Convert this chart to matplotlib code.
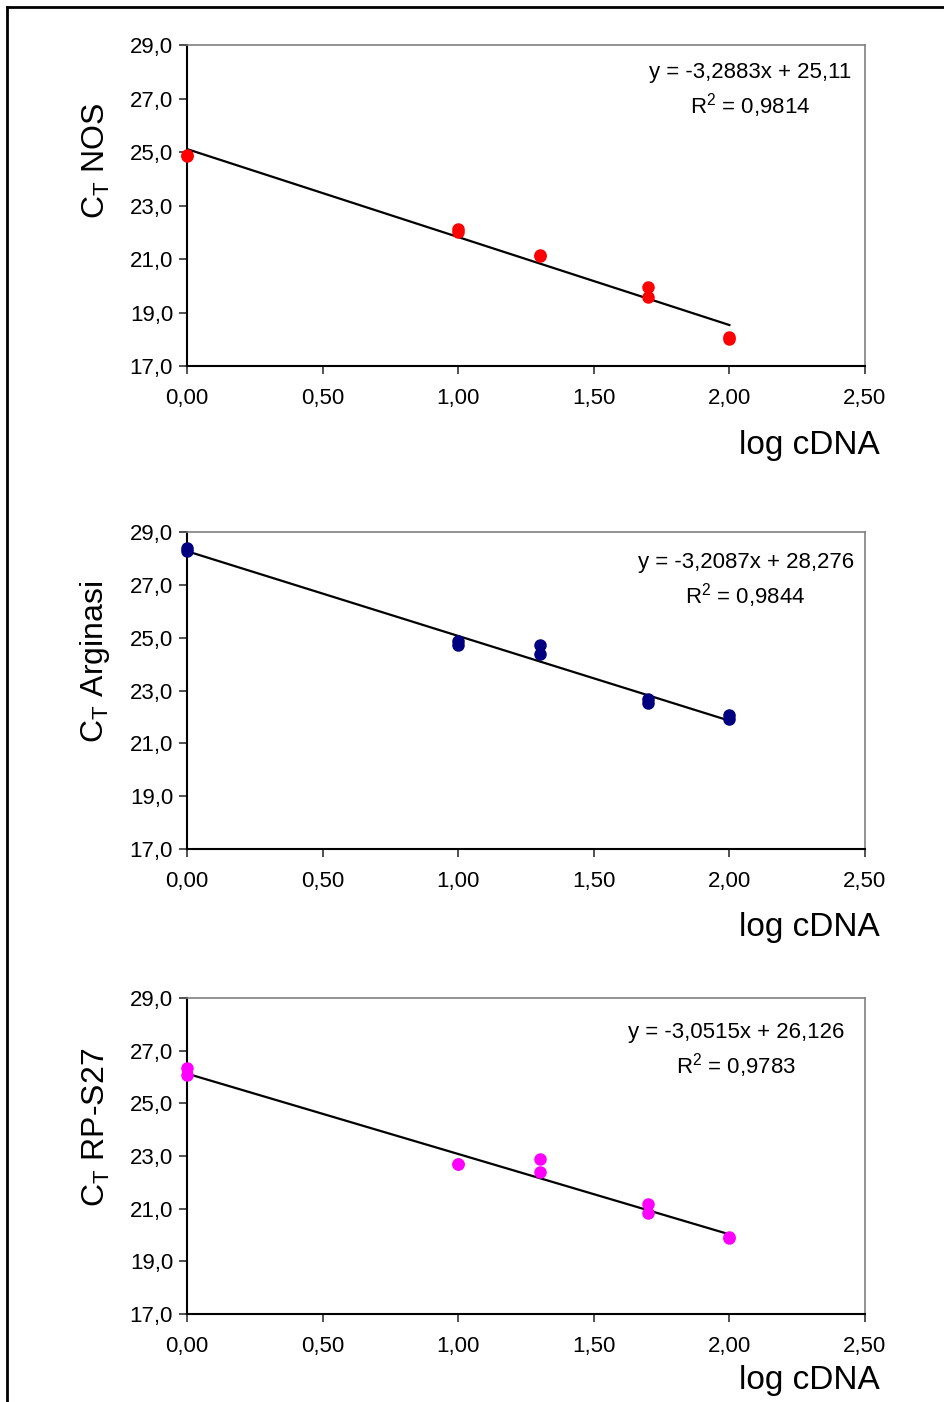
import numpy as np
import matplotlib
matplotlib.use("Agg")
import matplotlib.pyplot as plt
from matplotlib.lines import Line2D

plt.rcParams["font.family"] = ["Liberation Sans", "DejaVu Sans"]

# log of cDNA dilution (1, 10, 20, 50, 100), duplicates per point
log_cdna = [0.0, 0.0, 1.0, 1.0, 1.301, 1.301, 1.699, 1.699, 2.0, 2.0]

ct_nos = [24.85, 24.9, 22.12, 22.0, 21.1, 21.15, 19.95, 19.58, 18.08, 18.03]
ct_arginasi = [28.4, 28.3, 24.87, 24.72, 24.74, 24.38, 22.68, 22.53, 22.07, 21.92]
ct_rps27 = [26.34, 26.08, 22.7, 22.68, 22.89, 22.39, 21.16, 20.84, 19.93, 19.9]

genes = ["NOS", "Arginasi", "RP-S27"]
colors = ["#FF0000", "#000080", "#FF00FF"]
slopes = [-3.2883, -3.2087, -3.0515]
intercepts = [25.11, 28.276, 26.126]
r_squared = ["0,9814", "0,9844", "0,9783"]
eq_labels = ["y = -3,2883x + 25,11", "y = -3,2087x + 28,276", "y = -3,0515x + 26,126"]

y_ticks = [17, 19, 21, 23, 25, 27, 29]
x_ticks = [0.0, 0.5, 1.0, 1.5, 2.0, 2.5]

fig = plt.figure(figsize=(9.44, 14.02), dpi=100)

# axes boxes in figure fraction
boxes = [
    [0.1981, 0.7389, 0.7182, 0.2290],
    [0.1981, 0.3944, 0.7182, 0.2261],
    [0.1981, 0.0628, 0.7182, 0.2254],
]
ylabel_y = [0.64, 0.59, 0.59]
xlabel_y = [-0.246, -0.249, -0.209]
eq_pos = [(0.830, 0.856), (0.824, 0.846), (0.810, 0.832)]

for i, ct in enumerate([ct_nos, ct_arginasi, ct_rps27]):
    ax = fig.add_axes(boxes[i])
    ax.plot(log_cdna, ct, "o", color=colors[i], ms=8, mec=colors[i],
            zorder=3, clip_on=False)

    xs = np.array([0.0, 2.0])
    ax.plot(xs, slopes[i] * xs + intercepts[i], color="black", lw=1.6, zorder=2)

    ax.set_xlim(0, 2.5)
    ax.set_ylim(17, 29)
    ax.set_xticks(x_ticks)
    ax.set_yticks(y_ticks)
    ax.set_xticklabels([f"{v:.2f}".replace(".", ",") for v in x_ticks])
    ax.set_yticklabels([f"{v:.1f}".replace(".", ",") for v in y_ticks])
    ax.tick_params(axis="both", direction="out", length=6, width=1.2,
                   labelsize=16, color="#333333", pad=4)
    ax.tick_params(axis="x", pad=10)

    ax.spines["left"].set_linewidth(1.5)
    ax.spines["bottom"].set_linewidth(1.5)
    for side in ["top", "right"]:
        ax.spines[side].set_color("#808080")
        ax.spines[side].set_linewidth(1.2)
    for side in ["left", "bottom"]:
        ax.spines[side].set_color("black")

    ax.set_ylabel(r"$\mathregular{C_T}$ " + genes[i], fontsize=23)
    ax.yaxis.set_label_coords(-0.111, ylabel_y[i])
    ax.text(1.022, xlabel_y[i], "log cDNA", transform=ax.transAxes,
            ha="right", va="center", fontsize=24)

    ex, ey = eq_pos[i]
    ax.text(ex, ey, eq_labels[i] + "\n" + r"$\mathregular{R^2}$ = " + r_squared[i],
            transform=ax.transAxes, ha="center", va="center",
            multialignment="center", fontsize=16, linespacing=1.35)

# page frame on the left and top
fig.add_artist(Line2D([7 / 944, 7 / 944], [0, 1 - 7 / 1402], color="black", lw=2))
fig.add_artist(Line2D([7 / 944, 1], [1 - 7 / 1402, 1 - 7 / 1402], color="black", lw=2))

fig.savefig("out.png", dpi=100)
